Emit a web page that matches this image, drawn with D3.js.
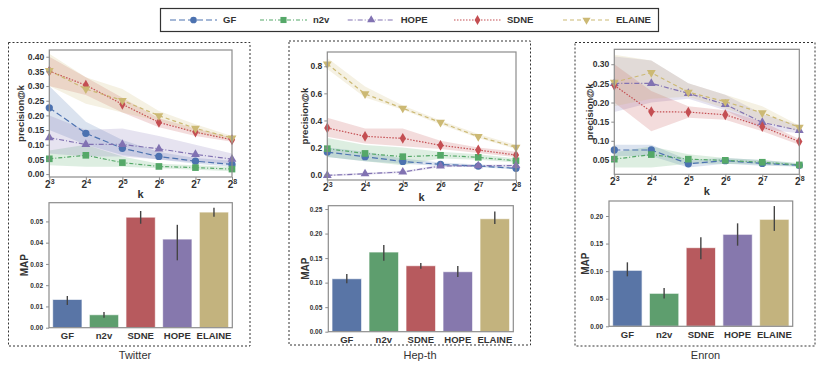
<!DOCTYPE html>
<html><head><meta charset="utf-8">
<script src="https://cdn.jsdelivr.net/npm/d3@7"></script>
<style>body{margin:0;background:#fff} svg{display:block} text{font-family:"Liberation Sans",Arial,sans-serif}</style>
</head><body><svg id="c" width="822" height="365"></svg>
<script>
// ---------- DATA ----------
const methods = ["GF", "n2v", "HOPE", "SDNE", "ELAINE"];
const barMethods = ["GF", "n2v", "SDNE", "HOPE", "ELAINE"];
const kValues = [8, 16, 32, 64, 128, 256];
const datasets = ["Twitter", "Hep-th", "Enron"];

// precision@k, rows in `methods` order
const twitterMean = [
  [0.226, 0.139, 0.088, 0.060, 0.044, 0.033],
  [0.052, 0.064, 0.039, 0.026, 0.022, 0.017],
  [0.124, 0.101, 0.101, 0.086, 0.067, 0.051],
  [0.351, 0.303, 0.238, 0.176, 0.143, 0.117],
  [0.353, 0.290, 0.251, 0.199, 0.156, 0.123]];
const twitterLow = [
  [0.150, 0.100, 0.065, 0.050, 0.035, 0.025],
  [0.030, 0.025, 0.025, 0.020, 0.015, 0.010],
  [0.070, 0.060, 0.060, 0.050, 0.040, 0.035],
  [0.300, 0.270, 0.210, 0.160, 0.130, 0.110],
  [0.300, 0.240, 0.210, 0.180, 0.140, 0.115]];
const twitterHigh = [
  [0.300, 0.178, 0.116, 0.075, 0.055, 0.045],
  [0.080, 0.100, 0.060, 0.035, 0.030, 0.025],
  [0.200, 0.150, 0.155, 0.130, 0.100, 0.070],
  [0.400, 0.330, 0.260, 0.190, 0.155, 0.125],
  [0.410, 0.330, 0.290, 0.215, 0.170, 0.130]];

const hepthMean = [
  [0.167, 0.133, 0.098, 0.076, 0.064, 0.047],
  [0.192, 0.157, 0.133, 0.143, 0.128, 0.103],
  [-0.005, 0.007, 0.020, 0.064, 0.066, 0.068],
  [0.345, 0.283, 0.268, 0.217, 0.182, 0.145],
  [0.817, 0.596, 0.490, 0.386, 0.281, 0.202]];
const hepthLow = [
  [0.130, 0.100, 0.080, 0.065, 0.055, 0.040],
  [0.130, 0.100, 0.070, 0.120, 0.110, 0.090],
  [-0.012, 0.000, 0.012, 0.055, 0.058, 0.060],
  [0.280, 0.230, 0.210, 0.190, 0.160, 0.130],
  [0.780, 0.570, 0.480, 0.370, 0.270, 0.190]];
const hepthHigh = [
  [0.200, 0.170, 0.120, 0.090, 0.075, 0.055],
  [0.270, 0.220, 0.200, 0.170, 0.150, 0.120],
  [0.002, 0.014, 0.028, 0.073, 0.074, 0.076],
  [0.420, 0.340, 0.340, 0.250, 0.200, 0.170],
  [0.860, 0.650, 0.510, 0.400, 0.300, 0.220]];

const enronMean = [
  [0.076, 0.076, 0.040, 0.048, 0.041, 0.036],
  [0.052, 0.064, 0.052, 0.049, 0.044, 0.037],
  [0.250, 0.250, 0.224, 0.195, 0.148, 0.127],
  [0.245, 0.176, 0.175, 0.168, 0.137, 0.098],
  [0.253, 0.278, 0.227, 0.202, 0.173, 0.135]];
const enronLow = [
  [0.060, 0.060, 0.030, 0.040, 0.035, 0.033],
  [0.030, 0.030, 0.040, 0.040, 0.038, 0.032],
  [0.175, 0.200, 0.210, 0.180, 0.130, 0.120],
  [0.200, 0.125, 0.160, 0.155, 0.125, 0.090],
  [0.190, 0.210, 0.215, 0.185, 0.150, 0.125]];
const enronHigh = [
  [0.090, 0.090, 0.050, 0.055, 0.050, 0.040],
  [0.070, 0.085, 0.065, 0.055, 0.050, 0.042],
  [0.320, 0.310, 0.250, 0.220, 0.170, 0.140],
  [0.300, 0.230, 0.190, 0.180, 0.150, 0.105],
  [0.325, 0.310, 0.250, 0.220, 0.190, 0.140]];

// MAP, in `barMethods` order
const twitterMAP = [0.0133, 0.0061, 0.0520, 0.0417, 0.0544];
const twitterMAPLow = [0.0107, 0.0047, 0.0489, 0.0317, 0.0522];
const twitterMAPHigh = [0.0149, 0.0074, 0.0549, 0.0484, 0.0564];
const hepthMAP = [0.108, 0.1624, 0.1345, 0.1223, 0.2303];
const hepthMAPLow = [0.0985, 0.1447, 0.1284, 0.1114, 0.2194];
const hepthMAPHigh = [0.1175, 0.1766, 0.1400, 0.1338, 0.2452];
const enronMAP = [0.1015, 0.0598, 0.1426, 0.1668, 0.194];
const enronMAPLow = [0.0906, 0.0502, 0.1215, 0.1462, 0.173];
const enronMAPHigh = [0.116, 0.0695, 0.1613, 0.1867, 0.218];

// y tick labels
const lineTicks = [
  [0, 0.05, 0.10, 0.15, 0.20, 0.25, 0.30, 0.35, 0.40],
  [0, 0.2, 0.4, 0.6, 0.8],
  [0.05, 0.10, 0.15, 0.20, 0.25, 0.30]];
const barTicks = [
  [0, 0.01, 0.02, 0.03, 0.04, 0.05],
  [0, 0.05, 0.10, 0.15, 0.20, 0.25],
  [0, 0.05, 0.10, 0.15, 0.20]];

// ---------- STYLE / LAYOUT ----------
const lineColor = {GF: "#4C72B0", n2v: "#55A868", HOPE: "#8172B2", SDNE: "#C44E52", ELAINE: "#CCB974"};
const barColor = {GF: "#5975A6", n2v: "#5E9E6E", SDNE: "#B75A5E", HOPE: "#8678AD", ELAINE: "#C3B37E"};
const dashes = {GF: "6,3", n2v: "4,2,1,2", HOPE: "5,2,1,2", SDNE: "1.5,1.5", ELAINE: "4,3"};
const symbols = {GF: d3.symbolCircle, n2v: d3.symbolSquare, HOPE: "tri", SDNE: d3.symbolDiamond, ELAINE: "trid"};
const markerArea = {GF: 32, n2v: 34, HOPE: 26, SDNE: 26, ELAINE: 26};

const panels = [
  {box: [8.5, 42.5, 250, 346], title: [135, 355],
   line: {l: 49.3, r: 232, t: 50, b: 177, dom: [-0.01, 0.423], fmt: ".2f", ylx: 20.5},
   bar: {l: 49, r: 232.3, t: 202.7, b: 327.7, dom: [0, 0.0588], fmt: ".2f", ylx: 24}},
  {box: [289, 41, 530.5, 345], title: [420, 355],
   line: {l: 327.3, r: 516, t: 52, b: 180, dom: [-0.039, 0.905], fmt: ".1f", ylx: 305},
   bar: {l: 328.3, r: 513.3, t: 205.7, b: 331.7, dom: [0, 0.2568], fmt: ".2f", ylx: 305}},
  {box: [575, 42.5, 815, 346], title: [705.5, 355],
   line: {l: 614.3, r: 799.3, t: 49.3, b: 174.3, dom: [0.0125, 0.339], fmt: ".2f", ylx: 590},
   bar: {l: 609, r: 792.7, t: 201, b: 326.3, dom: [0, 0.2272], fmt: ".2f", ylx: 585}}
];
const lineData = [[twitterMean, twitterLow, twitterHigh], [hepthMean, hepthLow, hepthHigh], [enronMean, enronLow, enronHigh]];
const barData = [[twitterMAP, twitterMAPLow, twitterMAPHigh], [hepthMAP, hepthMAPLow, hepthMAPHigh], [enronMAP, enronMAPLow, enronMAPHigh]];

const svg = d3.select("#c");
const TXT = "#333";
const SPINE = "#8c8c8c";

function markerPath(m, size) {
  if (symbols[m] === "tri" || symbols[m] === "trid") return d3.symbol(d3.symbolTriangle, size)();
  return d3.symbol(symbols[m], size)();
}
function markerRot(m) { return symbols[m] === "trid" ? " rotate(180)" : ""; }

// ---------- LEGEND ----------
const leg = svg.append("g");
leg.append("rect").attr("x", 160.5).attr("y", 8.5).attr("width", 498).attr("height", 23)
  .attr("fill", "#fff").attr("stroke", "#333").attr("stroke-width", 1.2);
const legX = [170, 260, 347.7, 454, 563];
methods.forEach((m, i) => {
  const x0 = legX[i], y = 20;
  leg.append("line").attr("x1", x0).attr("x2", x0 + 47).attr("y1", y).attr("y2", y)
    .attr("stroke", lineColor[m]).attr("stroke-width", 1.2).attr("stroke-dasharray", dashes[m]);
  leg.append("path").attr("d", markerPath(m, markerArea[m] * 1.1))
    .attr("transform", `translate(${x0 + 23.5},${y})${markerRot(m)}`).attr("fill", lineColor[m]);
  leg.append("text").attr("x", x0 + 53).attr("y", y).attr("dy", "0.35em")
    .attr("font-size", 9.5).attr("font-weight", "bold").attr("fill", TXT).text(m);
});

// ---------- PANELS ----------
panels.forEach((p, pi) => {
  const g = svg.append("g");
  const [bx0, by0, bx1, by1] = p.box;
  g.append("rect").attr("x", bx0).attr("y", by0).attr("width", bx1 - bx0).attr("height", by1 - by0)
    .attr("fill", "none").attr("stroke", "#333").attr("stroke-width", 1).attr("stroke-dasharray", "2,2");
  g.append("text").attr("x", p.title[0]).attr("y", p.title[1]).attr("dy", "0.35em")
    .attr("text-anchor", "middle").attr("font-size", 11).attr("fill", TXT).text(datasets[pi]);

  // ---- line chart ----
  const L = p.line;
  const x = d3.scaleLog().base(2).domain([8, 256]).range([L.l, L.r]);
  const y = d3.scaleLinear().domain(L.dom).range([L.b, L.t]);
  const lg = g.append("g");
  lg.append("rect").attr("x", L.l).attr("y", L.t).attr("width", L.r - L.l).attr("height", L.b - L.t).attr("fill", "#fff");
  const [mean, low, high] = lineData[pi];
  const clip = "clipL" + pi;
  lg.append("clipPath").attr("id", clip).append("rect")
    .attr("x", L.l).attr("y", L.t).attr("width", L.r - L.l).attr("height", L.b - L.t);
  const plot = lg.append("g").attr("clip-path", `url(#${clip})`);
  methods.forEach((m, mi) => {
    const area = d3.area().x((d, i) => x(kValues[i])).y0((d, i) => y(low[mi][i])).y1((d, i) => y(high[mi][i]));
    plot.append("path").attr("d", area(mean[mi])).attr("fill", lineColor[m]).attr("fill-opacity", 0.2);
  });
  methods.forEach((m, mi) => {
    const line = d3.line().x((d, i) => x(kValues[i])).y(d => y(d));
    plot.append("path").attr("d", line(mean[mi])).attr("fill", "none").attr("stroke", lineColor[m])
      .attr("stroke-width", 1.2).attr("stroke-dasharray", dashes[m]);
  });
  methods.forEach((m, mi) => {
    lg.selectAll(null).data(mean[mi]).join("path")
      .attr("d", markerPath(m, markerArea[m] * 1.3))
      .attr("transform", (d, i) => `translate(${x(kValues[i])},${y(d)})${markerRot(m)}`)
      .attr("fill", lineColor[m]);
  });
  lg.append("rect").attr("x", L.l).attr("y", L.t).attr("width", L.r - L.l).attr("height", L.b - L.t)
    .attr("fill", "none").attr("stroke", SPINE).attr("stroke-width", 1.2);
  const yax = lg.append("g").attr("transform", `translate(${L.l},0)`)
    .call(d3.axisLeft(y).tickValues(lineTicks[pi]).tickFormat(d3.format(L.fmt)).tickSize(3).tickPadding(2));
  yax.select(".domain").remove();
  yax.selectAll("line").attr("stroke", SPINE);
  yax.selectAll("text").attr("font-size", 8.5).attr("font-weight", "bold").attr("fill", TXT)
    .attr("font-family", "Liberation Sans, Arial, sans-serif");
  const xax = lg.append("g").attr("transform", `translate(0,${L.b})`)
    .call(d3.axisBottom(x).tickValues(kValues).tickFormat("").tickSize(3));
  xax.select(".domain").remove();
  xax.selectAll("line").attr("stroke", SPINE);
  xax.selectAll(".tick").append("text").attr("y", 11).attr("text-anchor", "middle")
    .attr("font-size", 10).attr("font-weight", "bold").attr("fill", TXT)
    .attr("font-family", "Liberation Sans, Arial, sans-serif")
    .each(function(d) {
      const t = d3.select(this);
      t.append("tspan").text("2");
      t.append("tspan").attr("dy", -4).attr("font-size", 7).text(Math.round(Math.log2(d)));
    });
  lg.append("text").attr("x", (L.l + L.r) / 2).attr("y", L.b + 17).attr("dy", "0.35em")
    .attr("text-anchor", "middle").attr("font-size", 11).attr("font-weight", "bold").attr("fill", TXT).text("k");
  lg.append("text").attr("transform", `translate(${L.ylx},${(L.t + L.b) / 2}) rotate(-90)`).attr("dy", "0.35em")
    .attr("text-anchor", "middle").attr("font-size", 9.5).attr("font-weight", "bold").attr("fill", TXT).text("precision@k");

  // ---- bar chart ----
  const B = p.bar;
  const bg = g.append("g");
  const xb = d3.scaleBand().domain(barMethods).range([B.l, B.r]).paddingInner(0.2).paddingOuter(0.1);
  const yb = d3.scaleLinear().domain(B.dom).range([B.b, B.t]);
  const [vals, lo, hi] = barData[pi];
  bg.selectAll(null).data(barMethods).join("rect")
    .attr("x", d => xb(d)).attr("width", xb.bandwidth())
    .attr("y", (d, i) => yb(vals[i])).attr("height", (d, i) => yb(0) - yb(vals[i]))
    .attr("fill", d => barColor[d]).attr("stroke", "#fff").attr("stroke-opacity", 0.7).attr("stroke-width", 1);
  bg.selectAll(null).data(barMethods).join("line")
    .attr("x1", d => xb(d) + xb.bandwidth() / 2).attr("x2", d => xb(d) + xb.bandwidth() / 2)
    .attr("y1", (d, i) => yb(lo[i])).attr("y2", (d, i) => yb(hi[i]))
    .attr("stroke", "#444").attr("stroke-width", 1.4);
  bg.append("rect").attr("x", B.l).attr("y", B.t).attr("width", B.r - B.l).attr("height", B.b - B.t)
    .attr("fill", "none").attr("stroke", SPINE).attr("stroke-width", 1.2);
  const ybx = bg.append("g").attr("transform", `translate(${B.l},0)`)
    .call(d3.axisLeft(yb).tickValues(barTicks[pi]).tickFormat(d3.format(B.fmt)).tickSize(3).tickPadding(3));
  ybx.select(".domain").remove();
  ybx.selectAll("line").attr("stroke", SPINE);
  ybx.selectAll("text").attr("font-size", 6.5).attr("font-weight", "bold").attr("fill", TXT)
    .attr("font-family", "Liberation Sans, Arial, sans-serif");
  const xbx = bg.append("g").attr("transform", `translate(0,${B.b})`)
    .call(d3.axisBottom(xb).tickSize(0).tickPadding(5));
  xbx.select(".domain").remove();
  xbx.selectAll("text").attr("font-size", 9.5).attr("font-weight", "bold").attr("fill", TXT)
    .attr("font-family", "Liberation Sans, Arial, sans-serif");
  bg.append("text").attr("transform", `translate(${B.ylx},${(B.t + B.b) / 2}) rotate(-90)`).attr("dy", "0.35em")
    .attr("text-anchor", "middle").attr("font-size", 10).attr("font-weight", "bold").attr("fill", TXT).text("MAP");
});
</script></body></html>
